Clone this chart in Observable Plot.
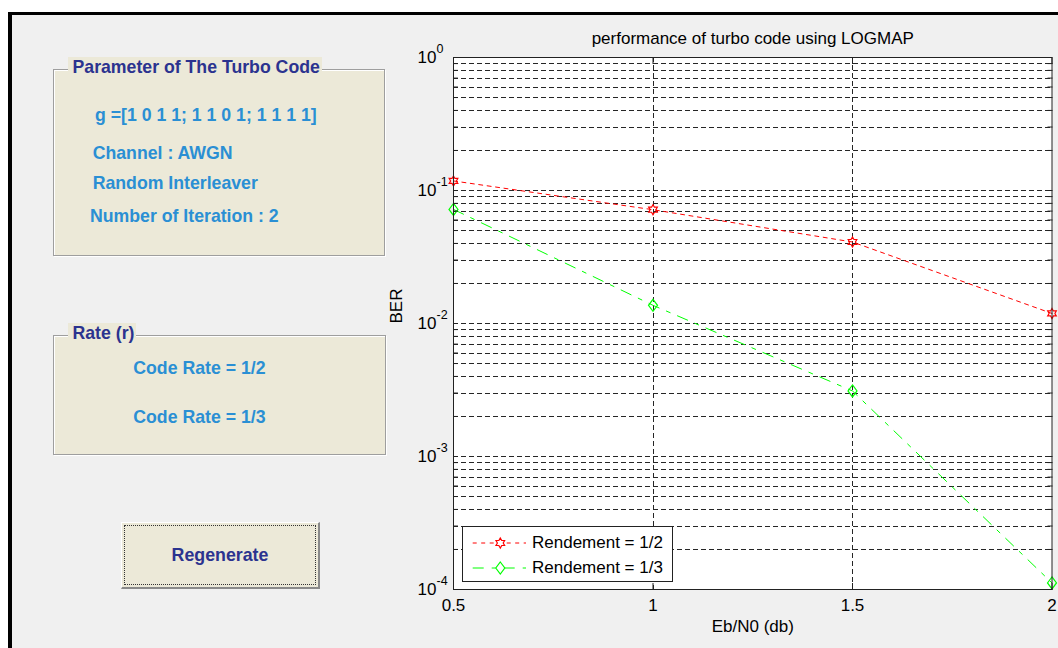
<!DOCTYPE html>
<html>
<head>
<meta charset="utf-8">
<script src="https://cdn.jsdelivr.net/npm/d3@7"></script>
<script src="https://cdn.jsdelivr.net/npm/@observablehq/plot@0.6"></script>
<style>
  html, body { margin: 0; padding: 0; background: #ffffff; width: 1058px; height: 648px; overflow: hidden; }
  #fig { position: absolute; left: 8px; top: 12px; width: 1050px; height: 636px; box-sizing: border-box;
         background: #f0f0f0; border-top: 3px solid #000; border-left: 4px solid #000; }
  .abs { position: absolute; white-space: nowrap; font-family: "Liberation Sans", Arial, sans-serif; }
  .panel { position: absolute; background: #ece9d8; border: 1px solid #9e9e9e; box-sizing: border-box;
           box-shadow: 1px 1px 0 #ffffff, inset 1px 1px 0 #ffffff; }
  .ptitle { position: absolute; background: #ece9d8; color: #2b338f; font-weight: bold; font-size: 17.7px;
            line-height: 20px; height: 20px; padding: 0 2px 0 4.5px; font-family: "Liberation Sans", Arial, sans-serif; white-space: nowrap; }
  .ptext { color: #2a8fd4; font-weight: bold; font-size: 17.7px; line-height: 20px; }
  #btn { position: absolute; left: 121px; top: 522px; width: 199px; height: 67px; box-sizing: border-box;
         background: #ece9d8; border-top: 1px solid #ffffff; border-left: 1px solid #ffffff;
         border-right: 2px solid #8a8a8a; border-bottom: 2px solid #8a8a8a; }
  #btnfocus { position: absolute; left: 2px; top: 2px; right: 2px; bottom: 2px; border: 1px dotted #333; }
  #btntext { position: absolute; left: 0; right: 0; top: 22px; text-align: center; color: #2b338f; font-weight: bold;
             font-size: 17.8px; line-height: 20px; font-family: "Liberation Sans", Arial, sans-serif; }
  #chart { position: absolute; left: 380px; top: 15px; }
  #legend { position: absolute; left: 462px; top: 526px; width: 211px; height: 56px; box-sizing: border-box;
            background: #ffffff; border: 1px solid #222; }
  .lrow { position: absolute; left: 0; height: 20px; }
  .lrow svg { position: absolute; left: 9px; top: 0; }
  .lrow span { position: absolute; left: 69px; top: 0; line-height: 20px; font-size: 17px; color: #000;
               font-family: "Liberation Sans", Arial, sans-serif; white-space: nowrap; }
</style>
</head>
<body>
<div id="fig"></div>

<div class="panel" style="left:53px; top:69px; width:332px; height:187px;"></div>
<div class="ptitle" style="left:68px; top:57px;">Parameter of The Turbo Code</div>
<div class="abs ptext" style="left:95px; top:105px;">g =[1 0 1 1; 1 1 0 1; 1 1 1 1]</div>
<div class="abs ptext" style="left:92.7px; top:143px;">Channel : AWGN</div>
<div class="abs ptext" style="left:92.7px; top:173px;">Random Interleaver</div>
<div class="abs ptext" style="left:90px; top:206px;">Number of Iteration : 2</div>

<div class="panel" style="left:53px; top:335px; width:333px; height:120px;"></div>
<div class="ptitle" style="left:68px; top:323px;">Rate (r)</div>
<div class="abs ptext" style="left:133.3px; top:357.7px;">Code Rate = 1/2</div>
<div class="abs ptext" style="left:133.3px; top:406.7px;">Code Rate = 1/3</div>

<div id="btn"><div id="btnfocus"></div><div id="btntext">Regenerate</div></div>

<div id="chart"></div>

<div id="legend">
  <div class="lrow" style="top:5.7px;"><svg id="sw1" width="56" height="20"></svg><span id="lt1"></span></div>
  <div class="lrow" style="top:30.7px;"><svg id="sw2" width="56" height="20"></svg><span id="lt2"></span></div>
</div>

<script>
// ---- data ----
const ebN0 = [0.5, 1, 1.5, 2];
const berRate12 = [0.118, 0.0717, 0.0410, 0.0119];
const berRate13 = [0.0721, 0.0137, 0.00311, 0.000112];
const seriesNames = ["Rendement = 1/2", "Rendement = 1/3"];
const xTicks = [0.5, 1, 1.5, 2];
const xTickLabels = ["0.5", "1", "1.5", "2"];
const yDecades = [1, 0.1, 0.01, 0.001, 0.0001];
const yExponents = ["0", "-1", "-2", "-3", "-4"];
const minorMantissas = [2, 3, 4, 5, 6, 7, 8, 9];
const titleText = "performance of turbo code using LOGMAP";
const xLabelText = "Eb/N0 (db)";
const yLabelText = "BER";

// ---- derived tables ----
const rows12 = ebN0.map((x, i) => ({x, y: berRate12[i]}));
const rows13 = ebN0.map((x, i) => ({x, y: berRate13[i]}));
const minorY = [];
yDecades.slice(1).forEach(d => minorMantissas.forEach(m => minorY.push(m * d)));
const allY = yDecades.concat(minorY);
const decadeRows = yDecades.map((v, i) => ({v, e: yExponents[i]}));

// ---- symbols ----
const hexagram = {
  draw(ctx, size) {
    const R = Math.sqrt(size / Math.PI), r = R * 0.58;
    for (let i = 0; i < 12; i++) {
      const a = Math.PI / 6 * i - Math.PI / 2, rr = i % 2 ? r : R;
      const px = rr * Math.cos(a), py = rr * Math.sin(a);
      if (i === 0) ctx.moveTo(px, py); else ctx.lineTo(px, py);
    }
    ctx.closePath();
  }
};
const diamond = {
  draw(ctx, size) {
    const R = Math.sqrt(size / Math.PI);
    ctx.moveTo(0, -R); ctx.lineTo(R * 0.75, 0); ctx.lineTo(0, R); ctx.lineTo(-R * 0.75, 0); ctx.closePath();
  }
};

const gridStyle = {stroke: "#262626", strokeWidth: 1, strokeDasharray: "5,3", shapeRendering: "crispEdges"};
const dash12 = "4,4.5";
const dash13 = "11,8,4,8";
const red = "#ff0000", green = "#00ff00";

const chart = Plot.plot({
  width: 678,
  height: 633,
  marginLeft: 73,
  marginRight: 6.5,
  marginTop: 42,
  marginBottom: 59,
  x: {domain: [0.5, 2]},
  y: {type: "log", domain: [1e-4, 1]},
  style: {background: "transparent", fontFamily: "'Liberation Sans', Arial, sans-serif", fontSize: "17px", color: "#000", overflow: "visible"},
  marks: [
    Plot.frame({fill: "white", stroke: null}),
    Plot.ruleY(allY, {...gridStyle}),
    Plot.ruleX(xTicks.slice(1, -1), {...gridStyle}),
    Plot.line(rows12, {x: "x", y: "y", stroke: red, strokeWidth: 1, strokeDasharray: dash12}),
    Plot.line(rows13, {x: "x", y: "y", stroke: green, strokeWidth: 1, strokeDasharray: dash13}),
    Plot.dot(rows12, {x: "x", y: "y", symbol: hexagram, r: 5, stroke: red, fill: "none", strokeWidth: 1.2}),
    Plot.dot(rows13, {x: "x", y: "y", symbol: diamond, r: 6, stroke: green, fill: "none", strokeWidth: 1.2}),
    Plot.frame({stroke: "#222", strokeWidth: 1}),
    Plot.axisY({anchor: "left", ticks: allY, tickSize: -5, tickFormat: () => "", label: null, stroke: "#222"}),
    Plot.axisY({anchor: "right", ticks: allY, tickSize: -5, tickFormat: () => "", label: null, stroke: "#222"}),
    Plot.axisX({anchor: "bottom", ticks: xTicks, tickSize: -6, tickFormat: () => "", label: null, stroke: "#222"}),
    Plot.axisX({anchor: "top", ticks: xTicks, tickSize: -6, tickFormat: () => "", label: null, stroke: "#222"}),
    // x tick labels
    Plot.text(xTicks, {x: d => d, frameAnchor: "bottom", lineAnchor: "middle", dy: 16, text: (d, i) => xTickLabels[i], fontSize: 17, fill: "#000"}),
    // y tick labels: 10 with superscript exponent
    Plot.text(decadeRows, {x: () => 0.5, y: "v", text: () => "10", textAnchor: "end", dx: -17, dy: 0, fontSize: 17, fill: "#000"}),
    Plot.text(decadeRows, {x: () => 0.5, y: "v", text: "e", textAnchor: "start", dx: -17, dy: -9, fontSize: 12.5, fill: "#000"}),
    // title and labels
    Plot.text([titleText], {frameAnchor: "top", lineAnchor: "middle", dy: -19, text: d => d, fontSize: 17, fill: "#000"}),
    Plot.text([xLabelText], {frameAnchor: "bottom", lineAnchor: "middle", dy: 37, text: d => d, fontSize: 17, fill: "#000"}),
    Plot.text([yLabelText], {frameAnchor: "left", lineAnchor: "middle", dx: -57, rotate: -90, text: d => d, fontSize: 17, fill: "#000"})
  ]
});
document.getElementById("chart").appendChild(chart);

// ---- legend swatches ----
function swatch(id, color, dash, sym, r) {
  const svg = d3.select("#" + id);
  svg.append("line").attr("x1", 0.7).attr("x2", 54).attr("y1", 10).attr("y2", 10)
    .attr("stroke", color).attr("stroke-width", 1).attr("stroke-dasharray", dash);
  const p = d3.path();
  sym.draw(p, r * r * Math.PI);
  svg.append("path").attr("d", p.toString()).attr("transform", "translate(28.3,10)")
    .attr("fill", "white").attr("stroke", color).attr("stroke-width", 1.2);
}
swatch("sw1", red, dash12, hexagram, 5);
swatch("sw2", green, dash13, diamond, 6);
document.getElementById("lt1").textContent = seriesNames[0];
document.getElementById("lt2").textContent = seriesNames[1];
</script>
</body>
</html>
